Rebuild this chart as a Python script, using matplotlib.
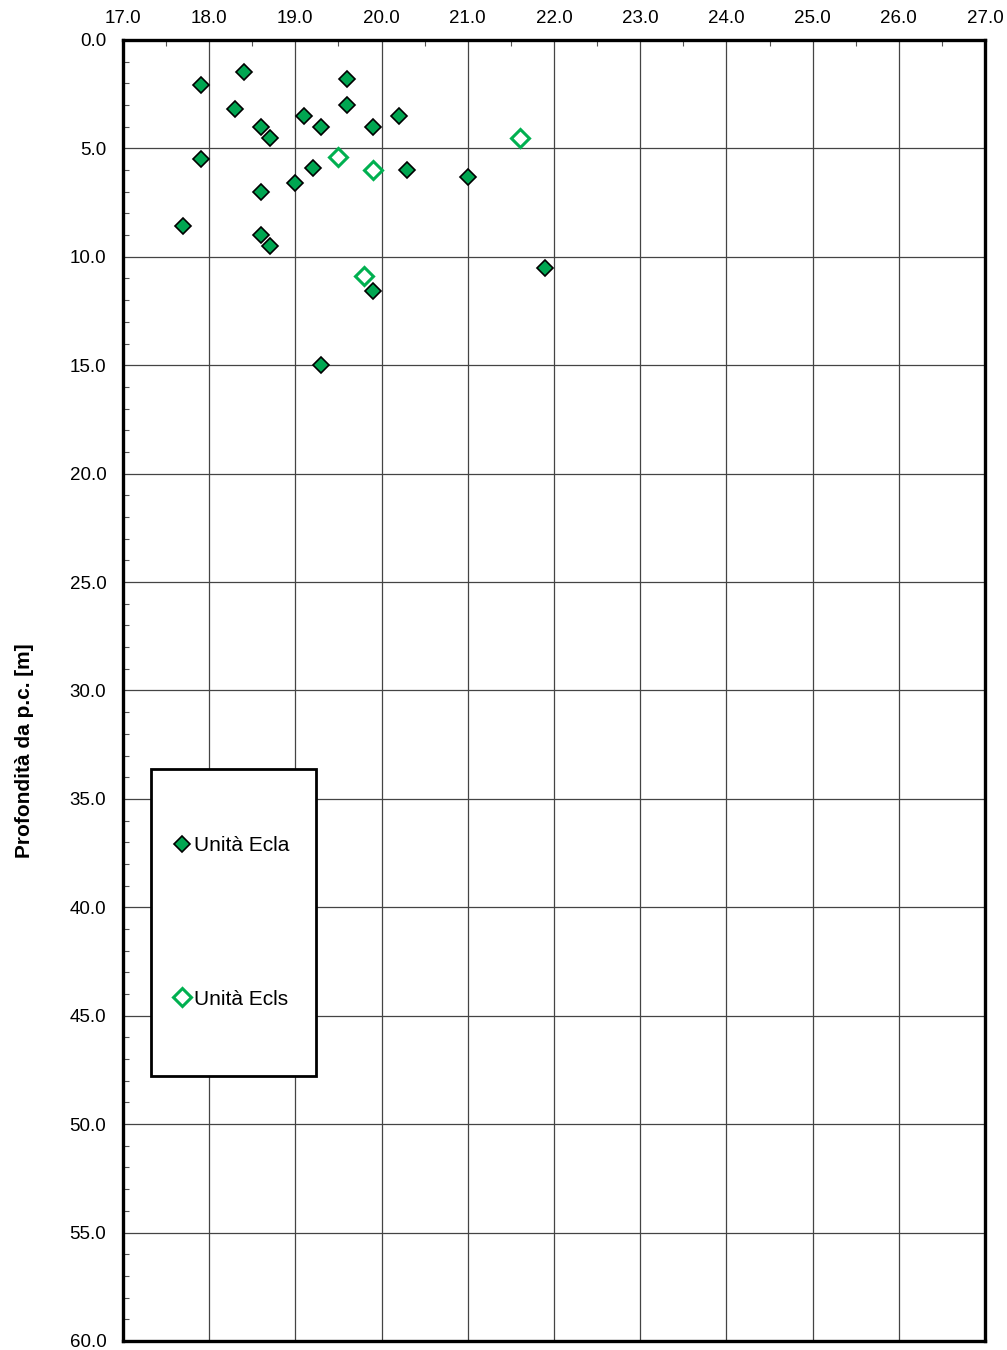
import matplotlib

matplotlib.use("Agg")

import matplotlib.pyplot as plt
from matplotlib.patches import Rectangle
from matplotlib.ticker import FormatStrFormatter, MultipleLocator

# Unità Ecla (filled)
ecla_x = [17.9, 18.4, 18.3, 18.6, 18.7, 17.9, 19.1, 19.3, 19.6, 19.6, 19.9, 20.2,
          19.2, 19.0, 18.6, 20.3, 21.0, 17.7, 18.6, 18.7, 21.9, 19.9, 19.3]
ecla_z = [2.1, 1.5, 3.2, 4.0, 4.5, 5.5, 3.5, 4.0, 1.8, 3.0, 4.0, 3.5,
          5.9, 6.6, 7.0, 6.0, 6.3, 8.6, 9.0, 9.5, 10.5, 11.6, 15.0]

# Unità Ecls (open)
ecls_x = [21.6, 19.5, 19.9, 19.8]
ecls_z = [4.5, 5.4, 6.0, 10.9]

plt.rcParams["font.family"] = ["Liberation Sans", "DejaVu Sans"]

fig = plt.figure(figsize=(10.07, 13.5), dpi=100)
ax = fig.add_axes([0.1221, 0.0067, 0.8561, 0.9637])

ax.plot(ecla_x, ecla_z, linestyle="none", marker="D", markersize=8.5,
        markerfacecolor="#00A651", markeredgecolor="black", markeredgewidth=1.2,
        label="Unità Ecla", zorder=3)
ax.plot(ecls_x, ecls_z, linestyle="none", marker="D", markersize=9,
        markerfacecolor="white", markeredgecolor="#00B050", markeredgewidth=2.2,
        label="Unità Ecls", zorder=3)

ax.set_xlim(17, 27)
ax.set_ylim(60, 0)
ax.xaxis.set_major_locator(MultipleLocator(1))
ax.xaxis.set_minor_locator(MultipleLocator(0.5))
ax.yaxis.set_major_locator(MultipleLocator(5))
ax.yaxis.set_minor_locator(MultipleLocator(1))
ax.xaxis.set_major_formatter(FormatStrFormatter("%.1f"))
ax.yaxis.set_major_formatter(FormatStrFormatter("%.1f"))
ax.xaxis.tick_top()
ax.tick_params(which="both", direction="in", labelsize=13.5, color="#555555")
ax.tick_params(which="major", length=0)
ax.tick_params(axis="x", which="major", pad=9)
ax.tick_params(axis="y", which="major", pad=12)
ax.tick_params(which="minor", length=4, width=0.8)
ax.grid(which="major", color="#444444", linewidth=0.9)

for s in ax.spines.values():
    s.set_linewidth(2.4)

ax.set_ylabel("Profondità da p.c. [m]", fontsize=15, fontweight="bold")
ax.yaxis.set_label_coords(-0.103, 0.454)

# legend box
ax.add_patch(Rectangle((0.0325, 0.2037), 0.1914, 0.236, transform=ax.transAxes,
                       facecolor="white", edgecolor="black", linewidth=2, zorder=4))
leg = ax.legend(loc="center left", bbox_to_anchor=(0.0603, 0.3217), fontsize=15,
                frameon=False, borderaxespad=0, borderpad=0,
                labelspacing=6.45, handlelength=0.7, handletextpad=0.2,
                numpoints=1)
leg.set_zorder(5)

fig.savefig("out.png", dpi=100)
